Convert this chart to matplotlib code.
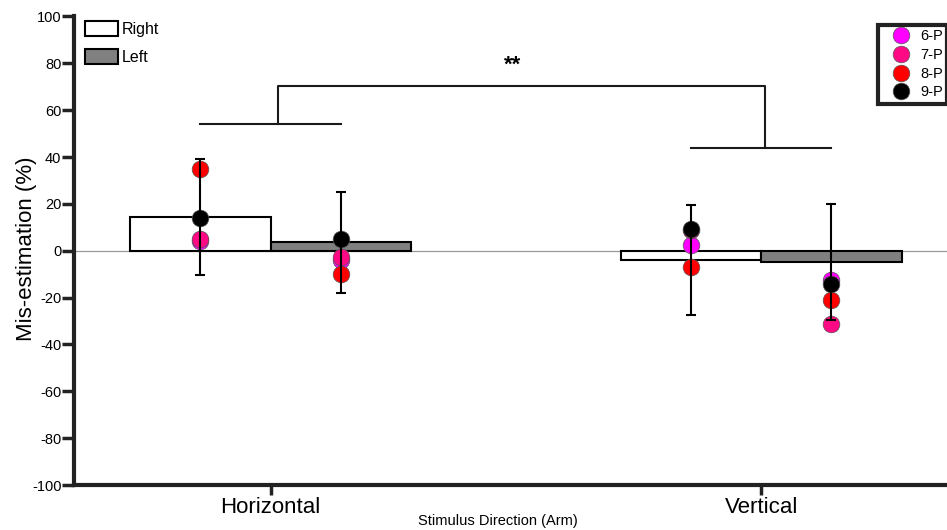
import matplotlib
matplotlib.use('Agg')
import matplotlib.pyplot as plt
from matplotlib.lines import Line2D

plt.rcParams['font.family'] = ['Liberation Sans', 'DejaVu Sans']
plt.rcParams['axes.unicode_minus'] = False

groups = ['Horizontal', 'Vertical']
right_mean = [14.5, -4.0]
left_mean = [3.6, -4.7]
right_sd = [24.8, 23.6]
left_sd = [21.5, 24.8]

subjects = ['6-P', '7-P', '8-P', '9-P']
subj_colors = ['#ff00ff', '#ff0a84', '#ff0000', '#000000']
# per subject: [H-right, V-right], [H-left, V-left]
subj_right = [[4.3, 2.4], [4.9, 9.0], [35.0, -7.1], [14.0, 9.2]]
subj_left = [[-3.8, -12.5], [-2.8, -31.3], [-10.0, -21.0], [4.9, -14.2]]

yticks = list(range(-100, 101, 20))

W = 0.2866
off = W / 2
xpos = [0, 1]

fig = plt.figure(figsize=(9.47, 5.30), dpi=100)
ax = fig.add_axes([0.0781, 0.0849, 0.9219, 0.8841])

ax.axhline(0, color='#9a9a9a', lw=0.9, zorder=1)

xr = [x - off for x in xpos]
xl = [x + off for x in xpos]
b_r = ax.bar(xr, right_mean, width=W, color='white', edgecolor='black', lw=1.5, zorder=2, label='Right')
b_l = ax.bar(xl, left_mean, width=W, color='#808080', edgecolor='black', lw=1.5, zorder=2, label='Left')

handles = []
for name, col, vr, vl in zip(subjects, subj_colors, subj_right, subj_left):
    ax.plot(xr, vr, 'o', ls='none', color=col, ms=12, mec='#555555', mew=0.5, zorder=3)
    ax.plot(xl, vl, 'o', ls='none', color=col, ms=12, mec='#555555', mew=0.5, zorder=3)
    handles.append(Line2D([], [], marker='o', ls='none', color=col, ms=12,
                          mec='#555555', mew=0.5, label=name))

ax.errorbar(xr, right_mean, yerr=right_sd, fmt='none', ecolor='black', elinewidth=1.5,
            capsize=3.6, capthick=1.5, zorder=4)
ax.errorbar(xl, left_mean, yerr=left_sd, fmt='none', ecolor='black', elinewidth=1.5,
            capsize=3.6, capthick=1.5, zorder=4)

# significance bracket
bk = dict(color='#1a1a1a', lw=1.5, zorder=4)
ax.plot([xr[0], xl[0]], [54, 54], **bk)
ax.plot([0.014, 0.014, 1.007, 1.007], [54, 70.5, 70.5, 43.8], **bk)
ax.plot([xr[1], xl[1]], [43.8, 43.8], **bk)
ax.text(0.494, 77, '**', ha='center', va='baseline', fontsize=16, fontweight='bold')

ax.set_xlim(-0.401, 1.379)
ax.set_ylim(-100, 100)
ax.set_yticks(yticks)
ax.set_yticklabels([str(t) for t in yticks])
ax.set_xticks(xpos)
ax.set_xticklabels(groups, fontsize=16)
ax.tick_params(axis='y', labelsize=10.5, length=8.5, width=2.5, pad=0.5, color='#222222')
ax.tick_params(axis='x', length=7, width=2.5, pad=1.5, color='#222222')
for s in ['top', 'right']:
    ax.spines[s].set_visible(False)
for s in ['left', 'bottom']:
    ax.spines[s].set_linewidth(3)
    ax.spines[s].set_color('#222222')

ax.set_ylabel('Mis-estimation (%)', fontsize=16)
ax.yaxis.set_label_coords(-0.042, 0.505)
ax.set_xlabel('Stimulus Direction (Arm)', fontsize=10.5)
ax.xaxis.set_label_coords(0.485, -0.062)

leg1 = fig.legend(handles=[b_r, b_l], loc='upper left', bbox_to_anchor=(85 / 947, 1 - 21 / 530),
                  frameon=False, fontsize=11.5, handlelength=2.06, handleheight=1.07,
                  handletextpad=0.25, labelspacing=0.75, borderpad=0, borderaxespad=0)

leg2 = fig.legend(handles=handles, loc='upper right', bbox_to_anchor=(1.0, 1 - 25 / 530),
                  fontsize=10.5, handlelength=2.5, handletextpad=0.05, labelspacing=0.32,
                  borderpad=0.3, borderaxespad=0, fancybox=False, framealpha=1)
leg2.get_frame().set_edgecolor('#222222')
leg2.get_frame().set_linewidth(3)

fig.savefig('out.png', dpi=100)
